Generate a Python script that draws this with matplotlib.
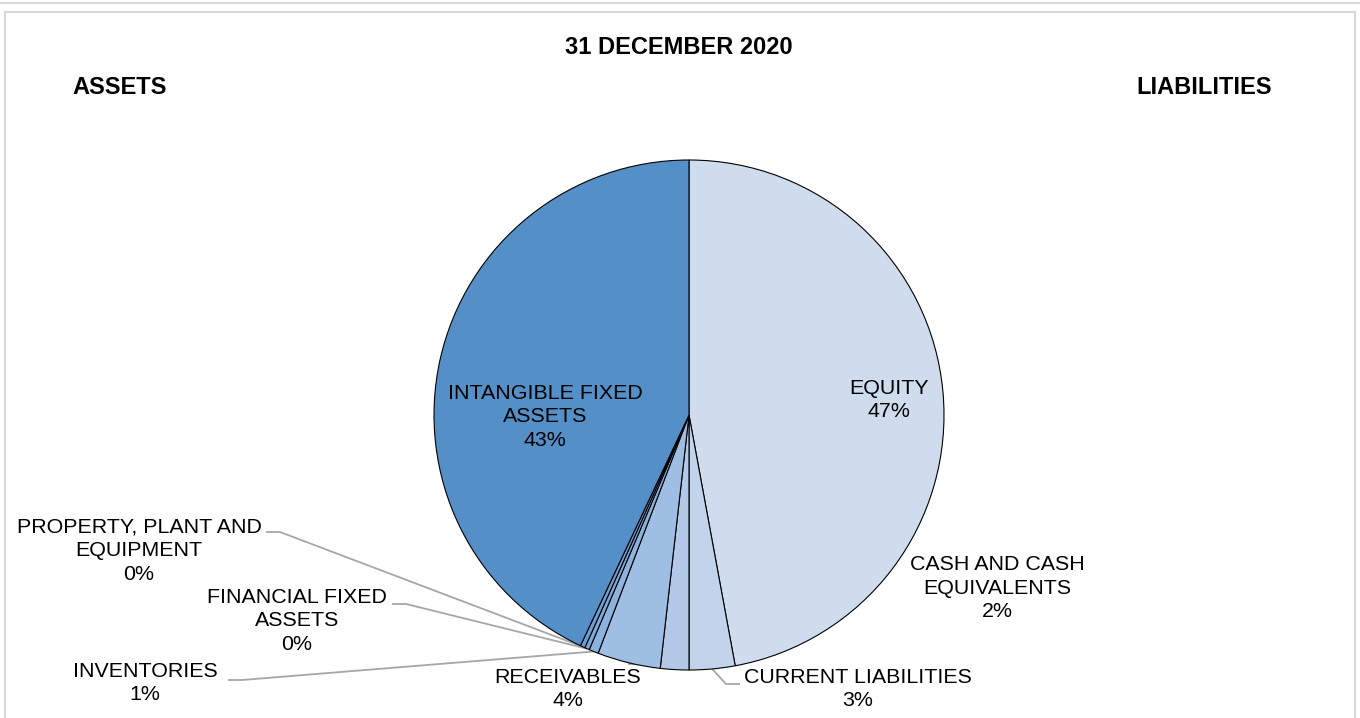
import matplotlib.pyplot as plt
from matplotlib.patches import Rectangle
from matplotlib.lines import Line2D
import numpy as np

plt.rcParams['font.family'] = ['Liberation Sans', 'DejaVu Sans']

# data, clockwise from 12 o'clock (share of balance sheet total, %)
categories = ['EQUITY', 'CURRENT LIABILITIES', 'CASH AND CASH\nEQUIVALENTS',
              'RECEIVABLES', 'INVENTORIES', 'FINANCIAL FIXED\nASSETS',
              'PROPERTY, PLANT AND\nEQUIPMENT', 'INTANGIBLE FIXED\nASSETS']
shares = [47.1, 2.9, 1.8, 4.0, 0.6, 0.3, 0.3, 43.0]
colors = ['#cfdcee', '#c2d4eb', '#b2c8e6', '#9fbee3', '#8cb2de',
          '#7ca8da', '#6c9ed3', '#558fc8']

title = '31 DECEMBER 2020'
left_head = 'ASSETS'
right_head = 'LIABILITIES'

W, H = 1360, 718
CX, CY, R = 689, 415, 255  # pie centre / radius in pixels


def px(x, y):
    # pixel (from top-left) -> data units, pie radius = 1
    return (x - CX) / R, (CY - y) / R


fig = plt.figure(figsize=(W / 100, H / 100), dpi=100)
ax = fig.add_axes([0, 0, 1, 1])

wedges, _ = ax.pie(shares, colors=colors, startangle=90, counterclock=False,
                   radius=1, center=(0, 0),
                   wedgeprops=dict(edgecolor='black', linewidth=0.8))
ax.set_xlim(-CX / R, (W - CX) / R)
ax.set_ylim(-(H - CY) / R, CY / R)
ax.set_aspect('auto')
ax.axis('off')

# label centre, leader elbow (None = no leader)
label_pos = [
    ((889, 400), None),
    ((858, 689), (740, 684)),
    ((997, 588), None),
    ((568, 689), (628, 664)),
    ((145, 683), (228, 680)),
    ((297, 621), (392, 604)),
    ((139, 551), (266, 532)),
    ((545, 417), None),
]

total = sum(shares)
for w, name, v, (lp, elbow) in zip(wedges, categories, shares, label_pos):
    txt = '%s\n%d%%' % (name, round(v / total * 100))
    ax.text(*px(*lp), txt, ha='center', va='center', fontsize=15.4,
            linespacing=1.32, color='black')
    if elbow is not None:
        mid = np.deg2rad((w.theta1 + w.theta2) / 2)
        ex, ey = np.cos(mid), np.sin(mid)
        x0, y0 = px(*elbow)
        step = 14 / R if x0 < ex else -14 / R
        ax.plot([x0, x0 + step, ex], [y0, y0, ey], color='#a6a6a6',
                lw=1.3, zorder=0, solid_capstyle='butt')

fig.text(679 / W, 1 - 48 / H, title, ha='center', va='center',
         fontsize=17, fontweight='bold')
fig.text(72 / W, 1 - 88 / H, left_head, ha='left', va='center',
         fontsize=17, fontweight='bold')
fig.text(1272 / W, 1 - 88 / H, right_head, ha='right', va='center',
         fontsize=17, fontweight='bold')

# chart frame
fig.add_artist(Rectangle((5 / W, -0.05), 1350 / W, 1.05 - 12 / H,
                         transform=fig.transFigure, fill=False,
                         edgecolor='#d9d9d9', lw=1.5))
fig.add_artist(Line2D([0, 1], [1 - 3 / H, 1 - 3 / H],
                      transform=fig.transFigure, color='#d9d9d9', lw=1.5))

fig.savefig('out.png', dpi=100)
